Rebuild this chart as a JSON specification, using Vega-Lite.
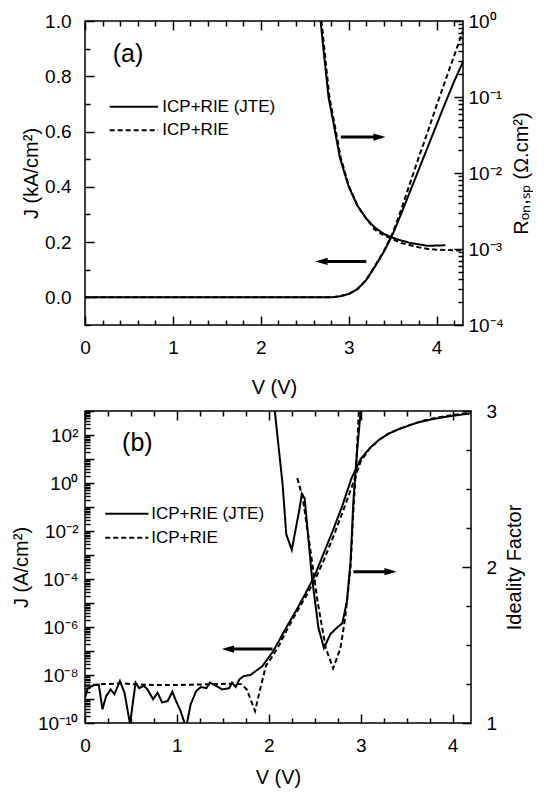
{
  "$schema": "https://vega.github.io/schema/vega-lite/v6.json",
  "padding": {"left": 10, "top": 11, "right": 5, "bottom": 2},
  "spacing": 3,
  "config": {
    "view": {"stroke": "black", "strokeWidth": 1.5},
    "font": "Liberation Sans",
    "axis": {"domain": false, "ticks": false, "grid": true, "gridColor": "#000000", "gridOpacity": 1, "gridWidth": 1.5, "labelFontSize": 19, "labelColor": "black", "labelFont": "Liberation Sans", "titleFont": "Liberation Sans", "titleFontSize": 20, "titleFontWeight": "normal", "titleColor": "black", "labelFlush": false, "labelOverlap": false, "labelBound": false}
  },
  "datasets": {
    "aJ": [
      {"s": "ICP+RIE (JTE)", "V": 0, "J": 0}, {"s": "ICP+RIE (JTE)", "V": 0.5, "J": 0}, {"s": "ICP+RIE (JTE)", "V": 1, "J": 0}, {"s": "ICP+RIE (JTE)", "V": 1.5, "J": 0}, {"s": "ICP+RIE (JTE)", "V": 2, "J": 0}, {"s": "ICP+RIE (JTE)", "V": 2.5, "J": 0}, {"s": "ICP+RIE (JTE)", "V": 2.8, "J": 0}, {"s": "ICP+RIE (JTE)", "V": 2.9, "J": 0.004}, {"s": "ICP+RIE (JTE)", "V": 3.0, "J": 0.012}, {"s": "ICP+RIE (JTE)", "V": 3.1, "J": 0.03}, {"s": "ICP+RIE (JTE)", "V": 3.2, "J": 0.063}, {"s": "ICP+RIE (JTE)", "V": 3.3, "J": 0.112}, {"s": "ICP+RIE (JTE)", "V": 3.4, "J": 0.165}, {"s": "ICP+RIE (JTE)", "V": 3.5, "J": 0.228}, {"s": "ICP+RIE (JTE)", "V": 3.6, "J": 0.305}, {"s": "ICP+RIE (JTE)", "V": 3.7, "J": 0.385}, {"s": "ICP+RIE (JTE)", "V": 3.8, "J": 0.465}, {"s": "ICP+RIE (JTE)", "V": 3.9, "J": 0.545}, {"s": "ICP+RIE (JTE)", "V": 4.0, "J": 0.625}, {"s": "ICP+RIE (JTE)", "V": 4.1, "J": 0.705}, {"s": "ICP+RIE (JTE)", "V": 4.2, "J": 0.782}, {"s": "ICP+RIE (JTE)", "V": 4.3, "J": 0.852},
      {"s": "ICP+RIE", "V": 0, "J": 0}, {"s": "ICP+RIE", "V": 0.5, "J": 0}, {"s": "ICP+RIE", "V": 1, "J": 0}, {"s": "ICP+RIE", "V": 1.5, "J": 0}, {"s": "ICP+RIE", "V": 2, "J": 0}, {"s": "ICP+RIE", "V": 2.5, "J": 0}, {"s": "ICP+RIE", "V": 2.8, "J": 0}, {"s": "ICP+RIE", "V": 2.9, "J": 0.004}, {"s": "ICP+RIE", "V": 3.0, "J": 0.012}, {"s": "ICP+RIE", "V": 3.1, "J": 0.03}, {"s": "ICP+RIE", "V": 3.2, "J": 0.064}, {"s": "ICP+RIE", "V": 3.3, "J": 0.114}, {"s": "ICP+RIE", "V": 3.4, "J": 0.168}, {"s": "ICP+RIE", "V": 3.5, "J": 0.232}, {"s": "ICP+RIE", "V": 3.6, "J": 0.32}, {"s": "ICP+RIE", "V": 3.7, "J": 0.415}, {"s": "ICP+RIE", "V": 3.8, "J": 0.51}, {"s": "ICP+RIE", "V": 3.9, "J": 0.6}, {"s": "ICP+RIE", "V": 4.0, "J": 0.695}, {"s": "ICP+RIE", "V": 4.1, "J": 0.785}, {"s": "ICP+RIE", "V": 4.2, "J": 0.875}, {"s": "ICP+RIE", "V": 4.3, "J": 0.965}
    ],
    "aR": [
      {"s": "ICP+RIE (JTE)", "V": 2.68, "R": 1.0}, {"s": "ICP+RIE (JTE)", "V": 2.72, "R": 0.355}, {"s": "ICP+RIE (JTE)", "V": 2.77, "R": 0.1}, {"s": "ICP+RIE (JTE)", "V": 2.82, "R": 0.05}, {"s": "ICP+RIE (JTE)", "V": 2.86, "R": 0.0282}, {"s": "ICP+RIE (JTE)", "V": 2.9, "R": 0.0158}, {"s": "ICP+RIE (JTE)", "V": 3.0, "R": 0.0066}, {"s": "ICP+RIE (JTE)", "V": 3.1, "R": 0.0037}, {"s": "ICP+RIE (JTE)", "V": 3.2, "R": 0.00251}, {"s": "ICP+RIE (JTE)", "V": 3.3, "R": 0.0019}, {"s": "ICP+RIE (JTE)", "V": 3.4, "R": 0.00158}, {"s": "ICP+RIE (JTE)", "V": 3.5, "R": 0.00141}, {"s": "ICP+RIE (JTE)", "V": 3.6, "R": 0.00129}, {"s": "ICP+RIE (JTE)", "V": 3.7, "R": 0.0012}, {"s": "ICP+RIE (JTE)", "V": 3.8, "R": 0.00115}, {"s": "ICP+RIE (JTE)", "V": 3.9, "R": 0.0011}, {"s": "ICP+RIE (JTE)", "V": 4.0, "R": 0.00111}, {"s": "ICP+RIE (JTE)", "V": 4.1, "R": 0.00112},
      {"s": "ICP+RIE", "V": 2.69, "R": 1.0}, {"s": "ICP+RIE", "V": 2.73, "R": 0.355}, {"s": "ICP+RIE", "V": 2.78, "R": 0.1}, {"s": "ICP+RIE", "V": 2.83, "R": 0.05}, {"s": "ICP+RIE", "V": 2.87, "R": 0.0282}, {"s": "ICP+RIE", "V": 2.91, "R": 0.0158}, {"s": "ICP+RIE", "V": 3.0, "R": 0.0068}, {"s": "ICP+RIE", "V": 3.1, "R": 0.0037}, {"s": "ICP+RIE", "V": 3.2, "R": 0.0025}, {"s": "ICP+RIE", "V": 3.3, "R": 0.00178}, {"s": "ICP+RIE", "V": 3.4, "R": 0.00151}, {"s": "ICP+RIE", "V": 3.5, "R": 0.00135}, {"s": "ICP+RIE", "V": 3.6, "R": 0.0012}, {"s": "ICP+RIE", "V": 3.7, "R": 0.00112}, {"s": "ICP+RIE", "V": 3.8, "R": 0.00105}, {"s": "ICP+RIE", "V": 3.9, "R": 0.001}, {"s": "ICP+RIE", "V": 4.0, "R": 0.00098}, {"s": "ICP+RIE", "V": 4.1, "R": 0.00097}, {"s": "ICP+RIE", "V": 4.2, "R": 0.00096}, {"s": "ICP+RIE", "V": 4.3, "R": 0.00095}
    ],
    "bJ": [
      {"s": "ICP+RIE (JTE)", "V": 0, "J": 1.12e-9}, {"s": "ICP+RIE (JTE)", "V": 0.03, "J": 2.82e-9}, {"s": "ICP+RIE (JTE)", "V": 0.1, "J": 3.8e-9}, {"s": "ICP+RIE (JTE)", "V": 0.15, "J": 3.98e-9}, {"s": "ICP+RIE (JTE)", "V": 0.19, "J": 3.72e-10}, {"s": "ICP+RIE (JTE)", "V": 0.23, "J": 1.32e-9}, {"s": "ICP+RIE (JTE)", "V": 0.28, "J": 2.51e-9}, {"s": "ICP+RIE (JTE)", "V": 0.32, "J": 1.58e-9}, {"s": "ICP+RIE (JTE)", "V": 0.38, "J": 5.62e-9}, {"s": "ICP+RIE (JTE)", "V": 0.43, "J": 1.82e-9}, {"s": "ICP+RIE (JTE)", "V": 0.49, "J": 9e-11}, {"s": "ICP+RIE (JTE)", "V": 0.55, "J": 4.79e-9}, {"s": "ICP+RIE (JTE)", "V": 0.59, "J": 2.82e-9}, {"s": "ICP+RIE (JTE)", "V": 0.64, "J": 3.55e-9}, {"s": "ICP+RIE (JTE)", "V": 0.68, "J": 2.51e-9}, {"s": "ICP+RIE (JTE)", "V": 0.74, "J": 9.77e-10}, {"s": "ICP+RIE (JTE)", "V": 0.79, "J": 1.82e-9}, {"s": "ICP+RIE (JTE)", "V": 0.84, "J": 7.08e-10}, {"s": "ICP+RIE (JTE)", "V": 0.9, "J": 8.32e-10}, {"s": "ICP+RIE (JTE)", "V": 0.95, "J": 2.0e-9}, {"s": "ICP+RIE (JTE)", "V": 0.99, "J": 8.32e-10}, {"s": "ICP+RIE (JTE)", "V": 1.04, "J": 3.16e-10}, {"s": "ICP+RIE (JTE)", "V": 1.1, "J": 6.3e-11}, {"s": "ICP+RIE (JTE)", "V": 1.15, "J": 6.03e-10}, {"s": "ICP+RIE (JTE)", "V": 1.21, "J": 2.14e-9}, {"s": "ICP+RIE (JTE)", "V": 1.26, "J": 3.16e-9}, {"s": "ICP+RIE (JTE)", "V": 1.32, "J": 2.82e-9}, {"s": "ICP+RIE (JTE)", "V": 1.36, "J": 4.79e-9}, {"s": "ICP+RIE (JTE)", "V": 1.43, "J": 3.47e-9}, {"s": "ICP+RIE (JTE)", "V": 1.49, "J": 2.51e-9}, {"s": "ICP+RIE (JTE)", "V": 1.57, "J": 2.82e-9}, {"s": "ICP+RIE (JTE)", "V": 1.6, "J": 4.79e-9}, {"s": "ICP+RIE (JTE)", "V": 1.64, "J": 3.16e-9}, {"s": "ICP+RIE (JTE)", "V": 1.68, "J": 6.61e-9}, {"s": "ICP+RIE (JTE)", "V": 1.73, "J": 9.12e-9}, {"s": "ICP+RIE (JTE)", "V": 1.8, "J": 1.0e-8}, {"s": "ICP+RIE (JTE)", "V": 1.93, "J": 2.34e-8}, {"s": "ICP+RIE (JTE)", "V": 2.04, "J": 8.91e-8}, {"s": "ICP+RIE (JTE)", "V": 2.1, "J": 2.24e-7}, {"s": "ICP+RIE (JTE)", "V": 2.2, "J": 1.12e-6}, {"s": "ICP+RIE (JTE)", "V": 2.3, "J": 5.01e-6}, {"s": "ICP+RIE (JTE)", "V": 2.4, "J": 2.51e-5}, {"s": "ICP+RIE (JTE)", "V": 2.5, "J": 1.41e-4}, {"s": "ICP+RIE (JTE)", "V": 2.6, "J": 1.26e-3}, {"s": "ICP+RIE (JTE)", "V": 2.7, "J": 1.12e-2}, {"s": "ICP+RIE (JTE)", "V": 2.8, "J": 0.112}, {"s": "ICP+RIE (JTE)", "V": 2.9, "J": 1.585}, {"s": "ICP+RIE (JTE)", "V": 3.0, "J": 10}, {"s": "ICP+RIE (JTE)", "V": 3.1, "J": 29}, {"s": "ICP+RIE (JTE)", "V": 3.2, "J": 63}, {"s": "ICP+RIE (JTE)", "V": 3.3, "J": 112}, {"s": "ICP+RIE (JTE)", "V": 3.4, "J": 166}, {"s": "ICP+RIE (JTE)", "V": 3.5, "J": 230}, {"s": "ICP+RIE (JTE)", "V": 3.6, "J": 310}, {"s": "ICP+RIE (JTE)", "V": 3.7, "J": 390}, {"s": "ICP+RIE (JTE)", "V": 3.8, "J": 470}, {"s": "ICP+RIE (JTE)", "V": 3.9, "J": 550}, {"s": "ICP+RIE (JTE)", "V": 4.0, "J": 630}, {"s": "ICP+RIE (JTE)", "V": 4.1, "J": 710}, {"s": "ICP+RIE (JTE)", "V": 4.2, "J": 800},
      {"s": "ICP+RIE", "V": 0, "J": 3.55e-9}, {"s": "ICP+RIE", "V": 0.2, "J": 4.17e-9}, {"s": "ICP+RIE", "V": 0.4, "J": 4.47e-9}, {"s": "ICP+RIE", "V": 0.6, "J": 3.98e-9}, {"s": "ICP+RIE", "V": 0.8, "J": 3.8e-9}, {"s": "ICP+RIE", "V": 1.0, "J": 3.8e-9}, {"s": "ICP+RIE", "V": 1.2, "J": 3.98e-9}, {"s": "ICP+RIE", "V": 1.4, "J": 4.17e-9}, {"s": "ICP+RIE", "V": 1.6, "J": 4.37e-9}, {"s": "ICP+RIE", "V": 1.7, "J": 4.17e-9}, {"s": "ICP+RIE", "V": 1.76, "J": 2.51e-9}, {"s": "ICP+RIE", "V": 1.85, "J": 3.16e-10}, {"s": "ICP+RIE", "V": 1.91, "J": 2.95e-9}, {"s": "ICP+RIE", "V": 1.97, "J": 2.51e-8}, {"s": "ICP+RIE", "V": 2.0, "J": 3.55e-8}, {"s": "ICP+RIE", "V": 2.1, "J": 1.41e-7}, {"s": "ICP+RIE", "V": 2.2, "J": 7.94e-7}, {"s": "ICP+RIE", "V": 2.3, "J": 3.98e-6}, {"s": "ICP+RIE", "V": 2.4, "J": 1.78e-5}, {"s": "ICP+RIE", "V": 2.5, "J": 8.91e-5}, {"s": "ICP+RIE", "V": 2.6, "J": 6.31e-4}, {"s": "ICP+RIE", "V": 2.7, "J": 5.62e-3}, {"s": "ICP+RIE", "V": 2.8, "J": 5.62e-2}, {"s": "ICP+RIE", "V": 2.9, "J": 0.631}, {"s": "ICP+RIE", "V": 3.0, "J": 7.94}, {"s": "ICP+RIE", "V": 3.1, "J": 28}, {"s": "ICP+RIE", "V": 3.2, "J": 62}, {"s": "ICP+RIE", "V": 3.3, "J": 112}, {"s": "ICP+RIE", "V": 3.4, "J": 168}, {"s": "ICP+RIE", "V": 3.5, "J": 235}, {"s": "ICP+RIE", "V": 3.6, "J": 320}, {"s": "ICP+RIE", "V": 3.7, "J": 415}, {"s": "ICP+RIE", "V": 3.8, "J": 505}, {"s": "ICP+RIE", "V": 3.9, "J": 590}, {"s": "ICP+RIE", "V": 4.0, "J": 680}, {"s": "ICP+RIE", "V": 4.1, "J": 770}, {"s": "ICP+RIE", "V": 4.2, "J": 860}
    ],
    "bN": [
      {"s": "ICP+RIE (JTE)", "V": 2.065, "n": 3.0}, {"s": "ICP+RIE (JTE)", "V": 2.15, "n": 2.53}, {"s": "ICP+RIE (JTE)", "V": 2.19, "n": 2.21}, {"s": "ICP+RIE (JTE)", "V": 2.25, "n": 2.11}, {"s": "ICP+RIE (JTE)", "V": 2.33, "n": 2.36}, {"s": "ICP+RIE (JTE)", "V": 2.36, "n": 2.47}, {"s": "ICP+RIE (JTE)", "V": 2.39, "n": 2.44}, {"s": "ICP+RIE (JTE)", "V": 2.47, "n": 1.93}, {"s": "ICP+RIE (JTE)", "V": 2.54, "n": 1.61}, {"s": "ICP+RIE (JTE)", "V": 2.6, "n": 1.48}, {"s": "ICP+RIE (JTE)", "V": 2.67, "n": 1.57}, {"s": "ICP+RIE (JTE)", "V": 2.74, "n": 1.61}, {"s": "ICP+RIE (JTE)", "V": 2.8, "n": 1.64}, {"s": "ICP+RIE (JTE)", "V": 2.85, "n": 1.78}, {"s": "ICP+RIE (JTE)", "V": 2.89, "n": 2.04}, {"s": "ICP+RIE (JTE)", "V": 2.92, "n": 2.42}, {"s": "ICP+RIE (JTE)", "V": 2.96, "n": 2.74}, {"s": "ICP+RIE (JTE)", "V": 3.0, "n": 3.0},
      {"s": "ICP+RIE", "V": 2.31, "n": 2.57}, {"s": "ICP+RIE", "V": 2.37, "n": 2.44}, {"s": "ICP+RIE", "V": 2.45, "n": 2.12}, {"s": "ICP+RIE", "V": 2.53, "n": 1.78}, {"s": "ICP+RIE", "V": 2.62, "n": 1.48}, {"s": "ICP+RIE", "V": 2.7, "n": 1.35}, {"s": "ICP+RIE", "V": 2.78, "n": 1.48}, {"s": "ICP+RIE", "V": 2.83, "n": 1.67}, {"s": "ICP+RIE", "V": 2.89, "n": 2.0}, {"s": "ICP+RIE", "V": 2.92, "n": 2.36}, {"s": "ICP+RIE", "V": 2.95, "n": 2.64}, {"s": "ICP+RIE", "V": 2.98, "n": 3.0}
    ]
  },
  "vconcat": [
    {
      "width": 378, "height": 304,
      "resolve": {"scale": {"y": "independent"}, "axis": {"x": "independent"}},
      "layer": [
        {
          "layer": [
            {
              "data": {"name": "aJ"},
              "mark": {"type": "line", "color": "black", "strokeWidth": 2, "clip": true},
              "encoding": {
                "x": {"field": "V", "type": "quantitative", "scale": {"domain": [0, 4.3], "nice": false, "zero": false},
                      "axis": {"orient": "bottom", "title": "V (V)", "grid": true, "ticks": false, "gridDash": {"condition": {"test": "indexof([0,1,2,3,4], datum.value) >= 0", "value": [9, 2000]}, "value": [5, 2000]}, "tickCount": 1000, "labelOverlap": false, "labelPadding": 13, "titlePadding": 20, "values": [0,0.2,0.4,0.6,0.8,1,1.2,1.4,1.6,1.8,2,2.2,2.4,2.6,2.8,3,3.2,3.4,3.6,3.8,4,4.2], "labelExpr": "indexof([0,1,2,3,4], datum.value) >= 0 ? format(datum.value, 'd') : ''"}},
                "y": {"field": "J", "type": "quantitative", "scale": {"domain": [-0.1, 1], "nice": false, "zero": false},
                      "axis": {"orient": "left", "title": "J (kA/cm²)", "grid": true, "ticks": false, "gridDash": {"condition": {"test": "indexof([0,0.2,0.4,0.6,0.8,1], datum.value) >= 0", "value": [9, 2000]}, "value": [5, 2000]}, "tickCount": 1000, "labelOverlap": false, "labelPadding": 14, "titlePadding": 3, "values": [-0.1,0,0.1,0.2,0.3,0.4,0.5,0.6,0.7,0.8,0.9,1], "labelExpr": "indexof([0,0.2,0.4,0.6,0.8,1], datum.value) >= 0 ? format(datum.value, '.1f') : ''"}},
                "strokeDash": {"field": "s", "type": "nominal", "scale": {"domain": ["ICP+RIE (JTE)", "ICP+RIE"], "range": [[1, 0], [5, 3]]}, "legend": null}
              }
            },
            {"data": {"values": [{}]}, "mark": {"type": "rule", "color": "black", "strokeWidth": 3}, "encoding": {"x": {"datum": 2.91}, "x2": {"datum": 3.35}, "y": {"datum": 0.58}}},
            {"data": {"values": [{}]}, "mark": {"type": "point", "shape": "M-1,-0.6L1,0L-1,0.6Z", "size": 150, "filled": true, "color": "black", "opacity": 1}, "encoding": {"x": {"datum": 3.35}, "y": {"datum": 0.58}}},
            {"data": {"values": [{}]}, "mark": {"type": "rule", "color": "black", "strokeWidth": 3}, "encoding": {"x": {"datum": 2.69}, "x2": {"datum": 3.2}, "y": {"datum": 0.13}}},
            {"data": {"values": [{}]}, "mark": {"type": "point", "shape": "M1,-0.6L-1,0L1,0.6Z", "size": 150, "filled": true, "color": "black", "opacity": 1}, "encoding": {"x": {"datum": 2.69}, "y": {"datum": 0.13}}},
            {"data": {"values": [{}]}, "mark": {"type": "rule", "color": "black", "strokeWidth": 2}, "encoding": {"x": {"datum": 0.28}, "x2": {"datum": 0.83}, "y": {"datum": 0.69}}},
            {"data": {"values": [{}]}, "mark": {"type": "rule", "color": "black", "strokeWidth": 2, "strokeDash": [5, 3]}, "encoding": {"x": {"datum": 0.28}, "x2": {"datum": 0.83}, "y": {"datum": 0.605}}},
            {"data": {"values": [{}]}, "mark": {"type": "text", "text": "ICP+RIE (JTE)", "align": "left", "baseline": "middle", "fontSize": 17, "color": "black"}, "encoding": {"x": {"datum": 0.88}, "y": {"datum": 0.69}}},
            {"data": {"values": [{}]}, "mark": {"type": "text", "text": "ICP+RIE", "align": "left", "baseline": "middle", "fontSize": 17, "color": "black"}, "encoding": {"x": {"datum": 0.88}, "y": {"datum": 0.605}}},
            {"data": {"values": [{}]}, "mark": {"type": "text", "text": "(a)", "align": "center", "baseline": "middle", "fontSize": 25, "color": "black"}, "encoding": {"x": {"datum": 0.49}, "y": {"datum": 0.88}}}
          ]
        },
        {
          "layer": [
            {
              "data": {"name": "aR"},
              "mark": {"type": "line", "color": "black", "strokeWidth": 2, "clip": true},
              "encoding": {
                "x": {"field": "V", "type": "quantitative", "scale": {"domain": [0, 4.3], "nice": false, "zero": false},
                      "axis": {"orient": "top", "title": null, "labels": false, "grid": true, "ticks": false, "gridDash": {"condition": {"test": "indexof([0,1,2,3,4], datum.value) >= 0", "value": [9, 2000]}, "value": [5, 2000]}, "tickCount": 1000, "values": [0,0.2,0.4,0.6,0.8,1,1.2,1.4,1.6,1.8,2,2.2,2.4,2.6,2.8,3,3.2,3.4,3.6,3.8,4,4.2]}},
                "y": {"field": "R", "type": "quantitative", "scale": {"type": "log", "domain": [0.0001, 1], "nice": false},
                      "axis": {"orient": "right", "title": "Rₒₙ,ₛₚ (Ω.cm²)", "titleAngle": 270, "titleBaseline": "top", "titlePadding": 8, "labelOverlap": false, "grid": true, "ticks": false, "gridDash": {"condition": {"test": "indexof([1,0.1,0.01,0.001,0.0001], datum.value) >= 0", "value": [9, 2000]}, "value": [5, 2000]}, "tickCount": 1000, "labelPadding": 5,
                               "values": [0.0001,0.0002,0.0003,0.0004,0.0005,0.0006,0.0007,0.0008,0.0009,0.001,0.002,0.003,0.004,0.005,0.006,0.007,0.008,0.009,0.01,0.02,0.03,0.04,0.05,0.06,0.07,0.08,0.09,0.1,0.2,0.3,0.4,0.5,0.6,0.7,0.8,0.9,1],
                               "labelExpr": "indexof([1,0.1,0.01,0.001,0.0001], datum.value) >= 0 ? ['10⁰','10⁻¹','10⁻²','10⁻³','10⁻⁴'][indexof([1,0.1,0.01,0.001,0.0001], datum.value)] : ''"}},
                "strokeDash": {"field": "s", "type": "nominal", "scale": {"domain": ["ICP+RIE (JTE)", "ICP+RIE"], "range": [[1, 0], [5, 3]]}, "legend": null}
              }
            }
          ]
        }
      ]
    },
    {
      "width": 386, "height": 312,
      "resolve": {"scale": {"y": "independent"}, "axis": {"x": "independent"}},
      "layer": [
        {
          "layer": [
            {
              "data": {"name": "bJ"},
              "mark": {"type": "line", "color": "black", "strokeWidth": 2, "clip": true},
              "encoding": {
                "x": {"field": "V", "type": "quantitative", "scale": {"domain": [0, 4.2], "nice": false, "zero": false},
                      "axis": {"orient": "bottom", "title": "V (V)", "grid": true, "ticks": false, "gridDash": {"condition": {"test": "indexof([0,1,2,3,4], datum.value) >= 0", "value": [9, 2000]}, "value": [5, 2000]}, "tickCount": 1000, "labelOverlap": false, "labelPadding": 13, "titlePadding": 12, "values": [0,0.25,0.5,0.75,1,1.25,1.5,1.75,2,2.25,2.5,2.75,3,3.25,3.5,3.75,4], "labelExpr": "indexof([0,1,2,3,4], datum.value) >= 0 ? format(datum.value, 'd') : ''"}},
                "y": {"field": "J", "type": "quantitative", "scale": {"type": "log", "domain": [1e-10, 1000], "nice": false},
                      "axis": {"orient": "left", "title": "J (A/cm²)", "titlePadding": 6, "labelPadding": 7, "labelOverlap": false, "grid": true, "ticks": false, "gridDash": {"condition": {"test": "indexof([1e-10,1e-9,1e-8,1e-7,1e-6,1e-5,1e-4,1e-3,0.01,0.1,1,10,100,1000], datum.value) >= 0", "value": [9, 2000]}, "value": [5, 2000]}, "tickCount": 1000,
                               "values": [1e-10,2e-10,3e-10,4e-10,5e-10,6e-10,7e-10,8e-10,9e-10,1e-9,2e-9,3e-9,4e-9,5e-9,6e-9,7e-9,8e-9,9e-9,1e-8,2e-8,3e-8,4e-8,5e-8,6e-8,7e-8,8e-8,9e-8,1e-7,2e-7,3e-7,4e-7,5e-7,6e-7,7e-7,8e-7,9e-7,1e-6,2e-6,3e-6,4e-6,5e-6,6e-6,7e-6,8e-6,9e-6,1e-5,2e-5,3e-5,4e-5,5e-5,6e-5,7e-5,8e-5,9e-5,1e-4,2e-4,3e-4,4e-4,5e-4,6e-4,7e-4,8e-4,9e-4,1e-3,2e-3,3e-3,4e-3,5e-3,6e-3,7e-3,8e-3,9e-3,0.01,0.02,0.03,0.04,0.05,0.06,0.07,0.08,0.09,0.1,0.2,0.3,0.4,0.5,0.6,0.7,0.8,0.9,1,2,3,4,5,6,7,8,9,10,20,30,40,50,60,70,80,90,100,200,300,400,500,600,700,800,900,1000],
                               "labelExpr": "indexof([100,1,0.01,1e-4,1e-6,1e-8,1e-10], datum.value) >= 0 ? ['10²','10⁰','10⁻²','10⁻⁴','10⁻⁶','10⁻⁸','10⁻¹⁰'][indexof([100,1,0.01,1e-4,1e-6,1e-8,1e-10], datum.value)] : ''"}},
                "strokeDash": {"field": "s", "type": "nominal", "scale": {"domain": ["ICP+RIE (JTE)", "ICP+RIE"], "range": [[1, 0], [5, 3]]}, "legend": null}
              }
            },
            {"data": {"values": [{}]}, "mark": {"type": "rule", "color": "black", "strokeWidth": 3}, "encoding": {"x": {"datum": 1.555}, "x2": {"datum": 2.04}, "y": {"datum": 1.2e-7}}},
            {"data": {"values": [{}]}, "mark": {"type": "point", "shape": "M1,-0.6L-1,0L1,0.6Z", "size": 150, "filled": true, "color": "black", "opacity": 1}, "encoding": {"x": {"datum": 1.555}, "y": {"datum": 1.2e-7}}},
            {"data": {"values": [{}]}, "mark": {"type": "rule", "color": "black", "strokeWidth": 2}, "encoding": {"x": {"datum": 0.22}, "x2": {"datum": 0.69}, "y": {"datum": 0.052}}},
            {"data": {"values": [{}]}, "mark": {"type": "rule", "color": "black", "strokeWidth": 2, "strokeDash": [5, 3]}, "encoding": {"x": {"datum": 0.22}, "x2": {"datum": 0.69}, "y": {"datum": 0.0052}}},
            {"data": {"values": [{}]}, "mark": {"type": "text", "text": "ICP+RIE (JTE)", "align": "left", "baseline": "middle", "fontSize": 17, "color": "black"}, "encoding": {"x": {"datum": 0.72}, "y": {"datum": 0.052}}},
            {"data": {"values": [{}]}, "mark": {"type": "text", "text": "ICP+RIE", "align": "left", "baseline": "middle", "fontSize": 17, "color": "black"}, "encoding": {"x": {"datum": 0.72}, "y": {"datum": 0.0052}}},
            {"data": {"values": [{}]}, "mark": {"type": "text", "text": "(b)", "align": "center", "baseline": "middle", "fontSize": 25, "color": "black"}, "encoding": {"x": {"datum": 0.57}, "y": {"datum": 48}}}
          ]
        },
        {
          "layer": [
            {
              "data": {"name": "bN"},
              "mark": {"type": "line", "color": "black", "strokeWidth": 2, "clip": true},
              "encoding": {
                "x": {"field": "V", "type": "quantitative", "scale": {"domain": [0, 4.2], "nice": false, "zero": false},
                      "axis": {"orient": "top", "title": null, "labels": false, "grid": true, "ticks": false, "gridDash": {"condition": {"test": "indexof([0,1,2,3,4], datum.value) >= 0", "value": [9, 2000]}, "value": [5, 2000]}, "tickCount": 1000, "values": [0,0.25,0.5,0.75,1,1.25,1.5,1.75,2,2.25,2.5,2.75,3,3.25,3.5,3.75,4]}},
                "y": {"field": "n", "type": "quantitative", "scale": {"domain": [1, 3], "nice": false, "zero": false},
                      "axis": {"orient": "right", "title": "Ideality Factor", "titleAngle": 270, "titleBaseline": "top", "titlePadding": 8, "labelPadding": 15, "labelOverlap": false, "grid": true, "ticks": false, "gridDash": {"condition": {"test": "indexof([1,2,3], datum.value) >= 0", "value": [9, 2000]}, "value": [5, 2000]}, "tickCount": 1000,
                               "values": [1,1.25,1.5,1.75,2,2.25,2.5,2.75,3], "labelExpr": "indexof([1,2,3], datum.value) >= 0 ? format(datum.value, 'd') : ''"}},
                "strokeDash": {"field": "s", "type": "nominal", "scale": {"domain": ["ICP+RIE (JTE)", "ICP+RIE"], "range": [[1, 0], [5, 3]]}, "legend": null}
              }
            },
            {"data": {"values": [{}]}, "mark": {"type": "rule", "color": "black", "strokeWidth": 3}, "encoding": {"x": {"datum": 2.92}, "x2": {"datum": 3.325}, "y": {"datum": 1.97}}},
            {"data": {"values": [{}]}, "mark": {"type": "point", "shape": "M-1,-0.6L1,0L-1,0.6Z", "size": 150, "filled": true, "color": "black", "opacity": 1}, "encoding": {"x": {"datum": 3.325}, "y": {"datum": 1.97}}}
          ]
        }
      ]
    }
  ]
}
